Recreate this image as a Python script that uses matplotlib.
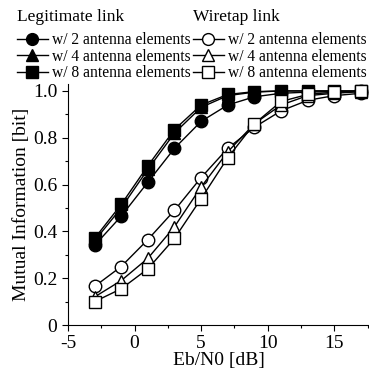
import matplotlib.pyplot as plt
from matplotlib.lines import Line2D

plt.rcParams['font.family'] = ['Liberation Serif', 'DejaVu Serif']
plt.rcParams['axes.unicode_minus'] = False

# Eb/N0 [dB]
ebn0 = [-3, -1, 1, 3, 5, 7, 9, 11, 13, 15, 17]

# legitimate link
legit_2 = [0.34, 0.465, 0.61, 0.755, 0.87, 0.94, 0.975, 0.99, 0.995, 0.997, 0.998]
legit_4 = [0.36, 0.50, 0.665, 0.82, 0.93, 0.98, 0.995, 1.0, 1.0, 1.0, 1.0]
legit_8 = [0.37, 0.515, 0.68, 0.835, 0.94, 0.985, 0.997, 1.0, 1.0, 1.0, 1.0]

# wiretap link
wire_2 = [0.165, 0.25, 0.365, 0.49, 0.63, 0.755, 0.845, 0.915, 0.96, 0.98, 0.99]
wire_4 = [0.12, 0.19, 0.285, 0.42, 0.59, 0.74, 0.86, 0.94, 0.98, 0.99, 0.997]
wire_8 = [0.10, 0.155, 0.24, 0.37, 0.54, 0.715, 0.86, 0.955, 0.985, 0.995, 0.998]

labels = ['w/ 2 antenna elements', 'w/ 4 antenna elements', 'w/ 8 antenna elements']
markers = ['o', '^', 's']

fig = plt.figure(figsize=(3.69, 3.78), dpi=100)
ax = fig.add_axes([0.184, 0.140, 0.816, 0.638])

ms = 9
for y, m in zip([legit_2, legit_4, legit_8], markers):
    ax.plot(ebn0, y, color='black', lw=1, marker=m, ms=ms, mfc='black', mec='black')
for y, m in zip([wire_2, wire_4, wire_8], markers):
    ax.plot(ebn0, y, color='black', lw=1, marker=m, ms=ms, mfc='white', mec='black')

ax.set_xlim(-5, 17.6)
ax.set_ylim(0, 1.03)
ax.set_xticks([-5, 0, 5, 10, 15])
ax.set_xticks([-2.5, 2.5, 7.5, 12.5, 17.5], minor=True)
ax.set_yticks([0, 0.2, 0.4, 0.6, 0.8, 1.0])
ax.set_yticklabels(['0', '0.2', '0.4', '0.6', '0.8', '1.0'])
ax.set_yticks([0.1, 0.3, 0.5, 0.7, 0.9], minor=True)
ax.tick_params(direction='out', labelsize=14, length=4, width=0.8)
ax.tick_params(which='minor', direction='out', length=2.5, width=0.8)
ax.spines['top'].set_visible(False)
ax.spines['right'].set_visible(False)
ax.set_xlabel('Eb/N0 [dB]', fontsize=14, labelpad=0)
ax.set_ylabel('Mutual Information [bit]', fontsize=14, labelpad=2)

def handles(fill):
    return [Line2D([], [], color='black', lw=1, marker=m, ms=8.5,
                   mfc=fill, mec='black') for m in markers]

kw = dict(fontsize=11.2, title_fontsize=12.5, frameon=False, alignment='left',
          handlelength=2.0, handletextpad=0.3, labelspacing=0.02,
          borderpad=0, borderaxespad=0)
leg1 = fig.legend(handles('black'), labels, title='Legitimate link',
                  loc='upper left', bbox_to_anchor=(0.045, 0.975), **kw)
leg2 = fig.legend(handles('white'), labels, title='Wiretap link',
                  loc='upper left', bbox_to_anchor=(0.522, 0.975), **kw)
leg1._legend_box.sep = 5
leg2._legend_box.sep = 5

fig.savefig('out.png', dpi=100)
